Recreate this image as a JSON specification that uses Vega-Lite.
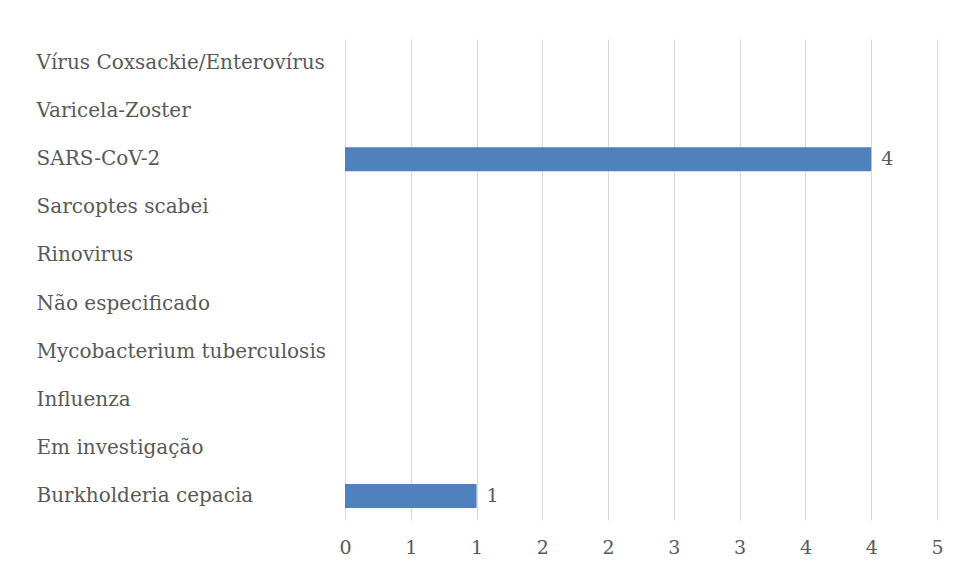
{
  "$schema": "https://vega.github.io/schema/vega-lite/v6.json",
  "width": 592,
  "height": 481,
  "autosize": {"type": "none"},
  "padding": {"left": 345, "top": 39, "right": 19, "bottom": 60},
  "background": "white",
  "config": {
    "view": {"stroke": null},
    "font": "DejaVu Serif"
  },
  "data": {
    "values": [
      {"agente": "Vírus Coxsackie/Enterovírus", "n": 0},
      {"agente": "Varicela-Zoster", "n": 0},
      {"agente": "SARS-CoV-2", "n": 4},
      {"agente": "Sarcoptes scabei", "n": 0},
      {"agente": "Rinovirus", "n": 0},
      {"agente": "Não especificado", "n": 0},
      {"agente": "Mycobacterium tuberculosis", "n": 0},
      {"agente": "Influenza", "n": 0},
      {"agente": "Em investigação", "n": 0},
      {"agente": "Burkholderia cepacia", "n": 1}
    ]
  },
  "encoding": {
    "y": {
      "field": "agente",
      "type": "nominal",
      "sort": null,
      "scale": {"paddingInner": 0.5, "paddingOuter": 0.25},
      "axis": {
        "title": null,
        "ticks": false,
        "domain": false,
        "labelAlign": "left",
        "labelPadding": 309,
        "labelFont": "DejaVu Serif",
        "labelFontSize": 20,
        "labelColor": "#595959",
        "labelLimit": 400
      }
    },
    "x": {
      "field": "n",
      "type": "quantitative",
      "scale": {"domain": [0, 4.5], "nice": false},
      "axis": {
        "title": null,
        "values": [0, 0.5, 1, 1.5, 2, 2.5, 3, 3.5, 4, 4.5],
        "labelExpr": "toString(round(datum.value))",
        "ticks": false,
        "domain": false,
        "grid": true,
        "gridColor": "#d9d9d9",
        "gridWidth": 1,
        "labelOverlap": false,
        "labelFlush": false,
        "labelBound": false,
        "labelPadding": 18,
        "labelFont": "DejaVu Serif",
        "labelFontSize": 19,
        "labelColor": "#595959"
      }
    }
  },
  "layer": [
    {"mark": {"type": "bar", "color": "#4f81bd"}},
    {
      "transform": [{"filter": "datum.n > 0"}],
      "mark": {"type": "text", "align": "left", "dx": 10, "fontSize": 19, "color": "#595959", "font": "DejaVu Serif"},
      "encoding": {"text": {"field": "n", "type": "quantitative"}}
    }
  ]
}
